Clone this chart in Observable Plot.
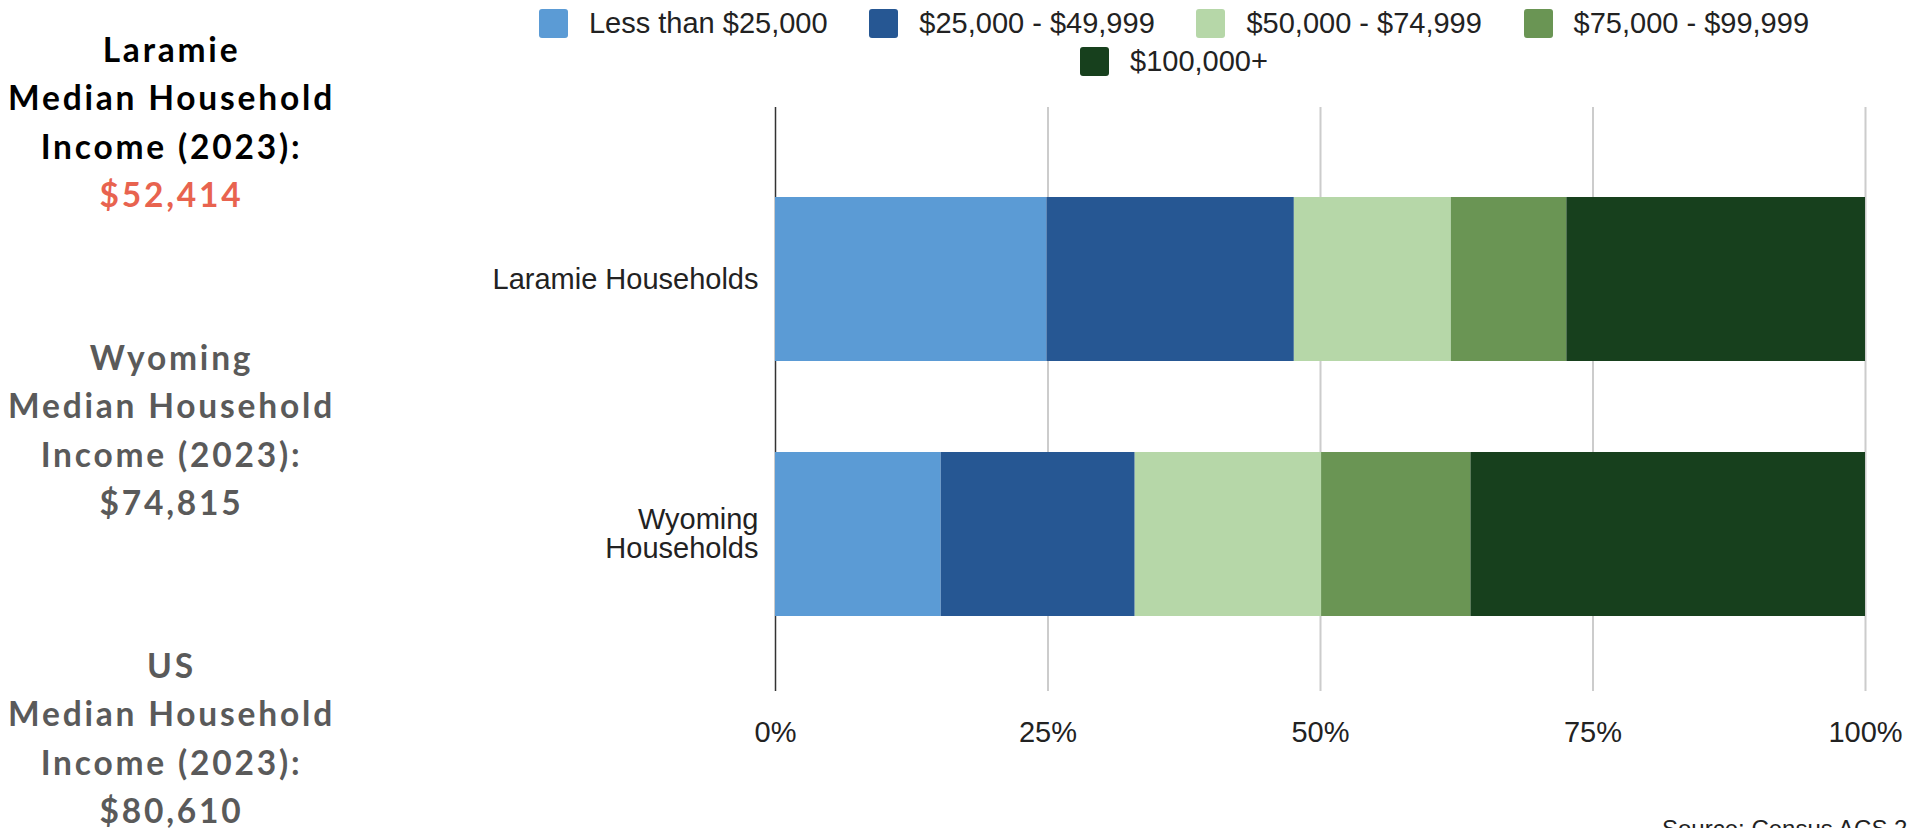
<!DOCTYPE html>
<html>
<head>
<meta charset="utf-8">
<script src="https://cdn.jsdelivr.net/npm/d3@7"></script>
<script src="https://cdn.jsdelivr.net/npm/@observablehq/plot@0.6"></script>
<style>
  html, body { margin: 0; padding: 0; background: #fff; }
  body { width: 1907px; height: 828px; overflow: hidden; position: relative; }
  #side { position: absolute; left: 0; top: 0; width: 340px; height: 828px; z-index: 3; }
  .blk { position: absolute; left: 0; width: 340px; box-sizing: border-box; padding-left: 3px; text-align: center;
         font-family: Lato, "Open Sans", sans-serif; font-weight: 700; font-size: 33.5px;
         line-height: 48.3px; letter-spacing: 2.8px; }
  #legend { position: absolute; left: 474px; top: 7px; width: 1400px; z-index: 2; }
  div.leg-swatches-wrap { justify-content: center; gap: 5px 41.7px; min-height: 30px;
         font-family: "Liberation Sans", Arial, sans-serif; font-size: 29px; color: #222; }
  div.leg-swatches-wrap .leg-swatch { margin-right: 0; }
  div.leg-swatches-wrap .leg-swatch svg { margin-right: 21px; }
  div.leg-swatches-wrap .leg-swatch svg rect { rx: 3px; ry: 3px; }
  #chart { position: absolute; left: 0; top: 88px; z-index: 1; }
  #source { position: absolute; left: 1662px; top: 815px; white-space: nowrap; z-index: 2;
            font-family: "Liberation Sans", Arial, sans-serif; font-size: 24px; color: #222; }
</style>
</head>
<body>
<div id="chart"></div>
<div id="legend"></div>
<div id="side"></div>
<div id="source"></div>
<script>
// ---- data ----
const categories = ["Laramie Households", "Wyoming Households"];
const categoryLabels = ["Laramie Households", "Wyoming\nHouseholds"];
const brackets = ["Less than $25,000", "$25,000 - $49,999", "$50,000 - $74,999", "$75,000 - $99,999", "$100,000+"];
const laramieShares = [24.9, 22.7, 14.4, 10.6, 27.4];
const wyomingShares = [15.2, 17.8, 17.1, 13.7, 36.2];
const bracketColors = ["#5b9bd5", "#265793", "#b6d7a8", "#6a9554", "#17401d"];
const xTicks = [0, 25, 50, 75, 100];
const medianPlaces = ["Laramie", "Wyoming", "US"];
const medianValues = ["$52,414", "$74,815", "$80,610"];
const sourceText = "Source: Census ACS 2023";

// ---- side text ----
const side = document.getElementById("side");
const blockTops = [25, 333, 641];
const headColors = ["#000000", "#5a5a5a", "#5a5a5a"];
const valueColors = ["#e8634f", "#5a5a5a", "#5a5a5a"];
medianPlaces.forEach((p, i) => {
  const d = document.createElement("div");
  d.className = "blk";
  d.style.top = blockTops[i] + "px";
  d.style.color = headColors[i];
  d.innerHTML = `<div>${p}</div><div>Median Household</div><div>Income (2023):</div><div style="color:${valueColors[i]}">${medianValues[i]}</div>`;
  side.appendChild(d);
});

// ---- table ----
const shares = [laramieShares, wyomingShares];
const rows = [];
categories.forEach((c, ci) => {
  brackets.forEach((b, bi) => rows.push({category: c, bracket: b, share: shares[ci][bi]}));
});

// ---- legend ----
const leg = Plot.legend({
  color: {type: "ordinal", domain: brackets, range: bracketColors},
  legend: "swatches",
  swatchSize: 29,
  className: "leg"
});
document.getElementById("legend").appendChild(leg);

// ---- chart ----
const plot = Plot.plot({
  width: 1907,
  height: 740,
  marginLeft: 775,
  marginRight: 42,
  marginTop: 19,
  marginBottom: 137,
  style: {fontFamily: "'Liberation Sans', Arial, sans-serif", fontSize: "29px", color: "#222", background: "transparent"},
  x: {domain: [0, 100], label: null},
  y: {domain: categories, label: null, paddingInner: 0.356, paddingOuter: 0.322, align: 0.549},
  color: {domain: brackets, range: bracketColors},
  marks: [
    Plot.gridX(xTicks.slice(1), {stroke: "#cccccc", strokeOpacity: 1, strokeWidth: 2}),
    Plot.ruleX([0], {stroke: "#333", strokeWidth: 1.5}),
    Plot.barX(rows, Plot.stackX({
      x: "share", y: "category", fill: "bracket", z: "bracket", order: null,
      insetLeft: 0, insetRight: 0
    })),
    Plot.axisX({ticks: xTicks, tickFormat: d => d + "%", tickSize: 0, tickPadding: 30, fontSize: 29, label: null}),
    Plot.axisY({tickSize: 0, tickPadding: 17, fontSize: 29, label: null,
      tickFormat: d => categoryLabels[categories.indexOf(d)]})
  ]
});
document.getElementById("chart").appendChild(plot);

document.getElementById("source").textContent = sourceText;
</script>
</body>
</html>
